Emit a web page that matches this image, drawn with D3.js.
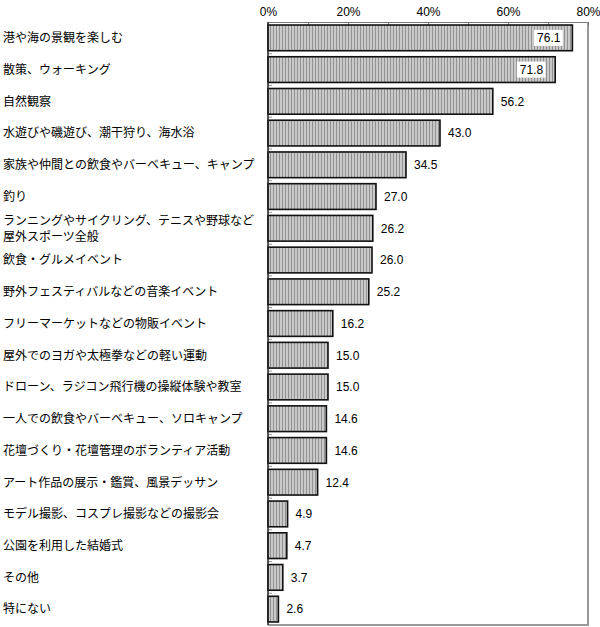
<!DOCTYPE html>
<html><head><meta charset="utf-8">
<script src="https://cdn.jsdelivr.net/npm/d3@7"></script>
<style>body{margin:0;background:#fff;}</style>
</head><body>
<svg id="c" width="600" height="627"></svg>
<script>
const categories = [
  "港や海の景観を楽しむ",
  "散策、ウォーキング",
  "自然観察",
  "水遊びや磯遊び、潮干狩り、海水浴",
  "家族や仲間との飲食やバーベキュー、キャンプ",
  "釣り",
  "ランニングやサイクリング、テニスや野球など\n屋外スポーツ全般",
  "飲食・グルメイベント",
  "野外フェスティバルなどの音楽イベント",
  "フリーマーケットなどの物販イベント",
  "屋外でのヨガや太極拳などの軽い運動",
  "ドローン、ラジコン飛行機の操縦体験や教室",
  "一人での飲食やバーベキュー、ソロキャンプ",
  "花壇づくり・花壇管理のボランティア活動",
  "アート作品の展示・鑑賞、風景デッサン",
  "モデル撮影、コスプレ撮影などの撮影会",
  "公園を利用した結婚式",
  "その他",
  "特にない"
];
const values = [76.1,71.8,56.2,43.0,34.5,27.0,26.2,26.0,25.2,16.2,15.0,15.0,14.6,14.6,12.4,4.9,4.7,3.7,2.6];
const tickValues = [0,20,40,60,80];
const insideLabelMin = 70;

const svg = d3.select("#c");
const L = 268, R = 588, T = 22, B = 625;
const x = d3.scaleLinear().domain([0,80]).range([L,R]);
const y = d3.scaleBand().domain(d3.range(categories.length)).range([T,B]).paddingInner(0.19).paddingOuter(0.095);

const defs = svg.append("defs");
const pat = defs.append("pattern").attr("id","stripe").attr("patternUnits","userSpaceOnUse")
  .attr("width",3).attr("height",4);
pat.append("rect").attr("width",3).attr("height",4).attr("fill","#c9c9c9");
pat.append("rect").attr("x",0).attr("width",1).attr("height",4).attr("fill","#929292");

// frame
svg.append("rect").attr("x",L).attr("y",T).attr("width",R-L).attr("height",B-T)
  .attr("fill","#fff").attr("stroke","none");
svg.append("line").attr("x1",L).attr("x2",R).attr("y1",T+0.5).attr("y2",T+0.5).attr("stroke","#777").attr("stroke-width",1);
svg.append("line").attr("x1",R).attr("x2",R).attr("y1",T).attr("y2",B).attr("stroke","#999").attr("stroke-width",2);
svg.append("line").attr("x1",L).attr("x2",R+1).attr("y1",B).attr("y2",B).attr("stroke","#999").attr("stroke-width",2);

// top axis
const ax = d3.axisTop(x).tickValues(d3.range(0,81,10)).tickSize(-4).tickFormat(d => tickValues.includes(d) ? d + "%" : "");
const gx = svg.append("g").attr("transform",`translate(0,${T})`).call(ax);
gx.select(".domain").remove();
gx.selectAll(".tick line").attr("stroke","#777");
gx.selectAll(".tick text").attr("font-family","'Liberation Sans', Arial, sans-serif").attr("font-size",12)
  .attr("fill","#000").attr("y",-6);

// bars
const bars = svg.append("g");
bars.selectAll("rect").data(values).join("rect")
  .attr("x",x(0)).attr("y",(d,i)=>y(i))
  .attr("width",d=>x(d)-x(0)).attr("height",y.bandwidth())
  .attr("fill","url(#stripe)").attr("stroke","#111").attr("stroke-width",1.6);

// left axis ticks between bands
const step = y.step();
const bounds = d3.range(1,categories.length).map(i => y(i) - (step - y.bandwidth())/2);
svg.append("g").selectAll("line").data(bounds).join("line")
  .attr("x1",L).attr("x2",L+4).attr("y1",d=>d).attr("y2",d=>d).attr("stroke","#999");
svg.append("line").attr("x1",L).attr("x2",L).attr("y1",T).attr("y2",B).attr("stroke","#222").attr("stroke-width",1.5);

// value labels
const vl = svg.append("g").attr("font-family","'Liberation Sans', Arial, sans-serif").attr("font-size",12);
values.forEach((v,i) => {
  const cy = y(i) + y.bandwidth()/2;
  if (v >= insideLabelMin) {
    const tx = x(v) - 12;
    const t = vl.append("text").attr("x",tx).attr("y",cy).attr("dy","0.36em").attr("text-anchor","end").text(v.toFixed(1));
    const bb = t.node().getBBox();
    vl.insert("rect","text").attr("x",bb.x-3).attr("y",cy-8).attr("width",bb.width+5).attr("height",16).attr("fill","#fff");
  } else {
    vl.append("text").attr("x",x(v)+8).attr("y",cy).attr("dy","0.36em").text(v.toFixed(1));
  }
});

// category labels
const cl = svg.append("g").attr("font-family","'Noto Sans CJK JP', sans-serif").attr("font-size",12).attr("fill","#000");
categories.forEach((c,i) => {
  const cy = y(i) + y.bandwidth()/2;
  const lines = c.split("\n");
  lines.forEach((ln,j) => {
    cl.append("text").attr("x",3).attr("y", cy + (j - (lines.length-1)/2)*16).attr("dy","0.36em").text(ln);
  });
});
</script>
</body></html>
